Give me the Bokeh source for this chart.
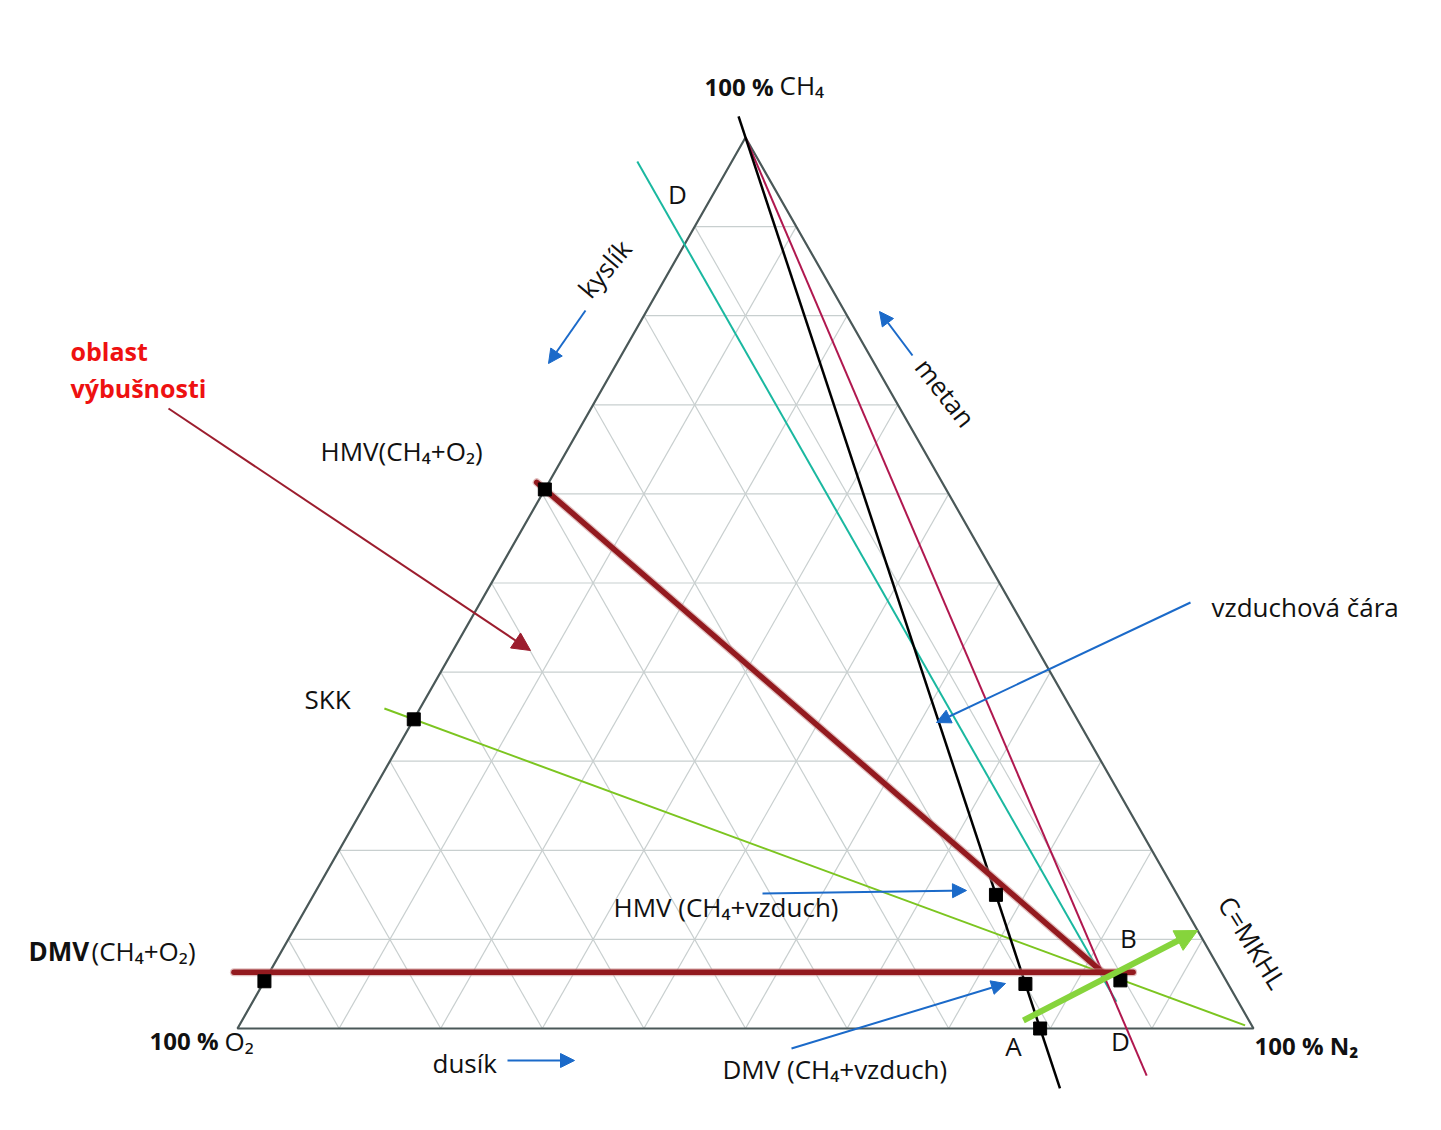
import numpy as np
from bokeh.plotting import figure
from bokeh.models import Range1d, Label, Arrow, NormalHead
from bokeh.embed import file_html
from bokeh.resources import INLINE

W, H = 1441, 1130

# ---------------- data (compositions as fractions: CH4, O2, N2) ----------------
grid_levels = [0.1, 0.2, 0.3, 0.4, 0.5, 0.6, 0.7, 0.8, 0.9]
air_o2, air_n2 = 0.21, 0.79                 # air composition
hmv_o2_c = 0.605                            # HMV(CH4+O2) on CH4-O2 edge
skk_c = 0.347                               # SKK on CH4-O2 edge
dmv_o2_c = 0.053                            # DMV(CH4+O2) on CH4-O2 edge
hmv_air_c = 0.15                            # HMV(CH4+vzduch) on air line
dmv_air_c = 0.05                            # DMV(CH4+vzduch) on air line
nose = (0.063, 0.117, 0.820)                # B - nose of explosive region
nose_marker = (0.054, 0.104, 0.842)
moc_o2 = 0.12                               # limiting O2 (line D-D)
mag_bottom = (0.0, 0.125, 0.875)
hmv_line_start = (0.613, 0.399, -0.012)
dmv_line_start = (0.063, 0.972, -0.035)
dmv_line_end = (0.063, 0.087, 0.850)
mkhl_start = (0.009, 0.222, 0.769)
mkhl_end = (0.110, 0.000, 0.890)

# ---------------- geometry (layout of triangle vertices in page pixels) ----------------
CH4_PX = (745.0, 137.0)
O2_PX = (237.0, 1028.0)
N2_PX = (1253.0, 1028.0)


def tern(c, o, n):
    x = c * CH4_PX[0] + o * O2_PX[0] + n * N2_PX[0]
    py = c * CH4_PX[1] + o * O2_PX[1] + n * N2_PX[1]
    return x, H - py


def seg(a, b):
    (x0, y0), (x1, y1) = tern(*a), tern(*b)
    return [x0, x1], [y0, y1]


def lerp(a, b, t):
    return tuple(a[i] + t * (b[i] - a[i]) for i in range(3))


p = figure(width=W, height=H, x_range=Range1d(0, W), y_range=Range1d(0, H),
           output_backend="svg", toolbar_location=None, min_border=0,
           background_fill_color="white", border_fill_color="white")
p.axis.visible = False
p.xgrid.visible = False
p.ygrid.visible = False
p.outline_line_color = None

# ---------------- ternary grid ----------------
gxs, gys = [], []
for k in grid_levels:
    for a, b in [((k, 1 - k, 0), (k, 0, 1 - k)),
                 ((1 - k, k, 0), (0, k, 1 - k)),
                 ((1 - k, 0, k), (0, 1 - k, k))]:
        xs, ys = seg(a, b)
        gxs.append(xs)
        gys.append(ys)
p.multi_line(gxs, gys, line_color="#c8cfcf", line_width=1.2)

# triangle edges
tx, ty = zip(*[tern(1, 0, 0), tern(0, 1, 0), tern(0, 0, 1), tern(1, 0, 0)])
p.line(list(tx), list(ty), line_color="#4a5858", line_width=2.2)

# ---------------- lines ----------------
CH4 = (1.0, 0.0, 0.0)
AIR = (0.0, air_o2, air_n2)
N2 = (0.0, 0.0, 1.0)

# D - D line (constant O2)
xs, ys = seg((0.973, moc_o2, 1 - moc_o2 - 0.973), (0.03, moc_o2, 1 - moc_o2 - 0.03))
p.line(xs, ys, line_color="#1ab8a0", line_width=2)

# magenta line from CH4
xs, ys = seg(CH4, lerp(CH4, mag_bottom, 1.053))
p.line(xs, ys, line_color="#b0184f", line_width=2)

# SKK line (from N2 through SKK)
SKK = (skk_c, 1 - skk_c, 0.0)
xs, ys = seg(lerp(N2, SKK, 0.01), lerp(N2, SKK, 1.035))
p.line(xs, ys, line_color="#7cc520", line_width=2)

# air line (vzduchová čára)
xs, ys = seg(lerp(CH4, AIR, -0.0236), lerp(CH4, AIR, 1.0673))
p.line(xs, ys, line_color="black", line_width=2.5)

# explosive region limits (thick red)
for a, b in [(hmv_line_start, nose), (dmv_line_start, dmv_line_end)]:
    xs, ys = seg(a, b)
    p.line(xs, ys, line_color="#c98a8a", line_width=8, line_alpha=0.55, line_cap="round")
    p.line(xs, ys, line_color="#931a1f", line_width=5.5, line_cap="round")

# ---------------- markers ----------------
mk = [(hmv_o2_c, 1 - hmv_o2_c, 0.0), SKK, (dmv_o2_c, 1 - dmv_o2_c, 0.0),
      lerp(CH4, AIR, 1 - hmv_air_c), lerp(CH4, AIR, 1 - dmv_air_c), AIR, nose_marker]
mx, my = zip(*[tern(*m) for m in mk])
p.scatter(list(mx), list(my), marker="square", size=13, fill_color="black", line_color="black")

# C=MKHL arrow (green)
(x0, y0), (x1, y1) = tern(*mkhl_start), tern(*mkhl_end)
p.add_layout(Arrow(x_start=x0, y_start=y0, x_end=x1, y_end=y1, line_color="#86d43c", line_width=6,
                   end=NormalHead(size=22, fill_color="#86d43c", line_color="#86d43c")))

# ---------------- annotation arrows (page pixel positions) ----------------
BLUE = "#1b6ac9"


def arrow(x0, y0, x1, y1, color=BLUE, size=14, width=2):
    p.add_layout(Arrow(x_start=x0, y_start=H - y0, x_end=x1, y_end=H - y1,
                       line_color=color, line_width=width,
                       end=NormalHead(size=size, fill_color=color, line_color=color)))


arrow(585, 310, 548, 363)      # kyslík
arrow(912, 355, 879, 311)      # metan
arrow(507, 1060, 574, 1060)    # dusík
arrow(1190, 602, 936, 722)     # vzduchová čára
arrow(762, 893, 966, 890)      # HMV (CH4+vzduch)
arrow(791, 1048, 1005, 983)    # DMV (CH4+vzduch)
arrow(168, 408, 530, 650, color="#9c1d2e", size=18, width=2)  # oblast výbušnosti

# ---------------- labels ----------------
FONT = "Open Sans"


def lab(text, x, y, size=26, bold=False, color="#111111", align="left", angle=0.0):
    p.add_layout(Label(x=x, y=H - y, text=text, text_font=FONT, text_font_size=f"{size}px",
                       text_font_style="bold" if bold else "normal", text_color=color,
                       text_align=align, text_baseline="middle", angle=angle))


lab("100 %", 773, 86, size=24, bold=True, align="right")
lab("CH₄", 779, 84)
lab("D", 677, 193, align="center")
lab("kyslík", 604, 268, align="center", angle=np.radians(50))
lab("metan", 945, 392, align="center", angle=np.radians(-52))
lab("oblast", 70, 350, size=25, bold=True, color="#ee1111")
lab("výbušnosti", 70, 387, size=25, bold=True, color="#ee1111")
lab("HMV(CH₄+O₂)", 320, 450)
lab("vzduchová čára", 1211, 606)
lab("SKK", 304, 698)
lab("HMV (CH₄+vzduch)", 613, 906)
lab("B", 1128, 937, align="center")
lab("C=MKHL", 1252, 942, align="center", angle=np.radians(-58))
lab("DMV", 28, 950, bold=True)
lab("(CH₄+O₂)", 91, 950)
lab("100 %", 218, 1040, size=24, bold=True, align="right")
lab("O₂", 224, 1040)
lab("dusík", 432, 1062)
lab("A", 1013, 1045, align="center")
lab("D", 1120, 1040, align="center")
lab("DMV (CH₄+vzduch)", 722, 1068)
lab("100 % N₂", 1254, 1045, size=24, bold=True)

open("out.html", "w").write(file_html(p, INLINE))
